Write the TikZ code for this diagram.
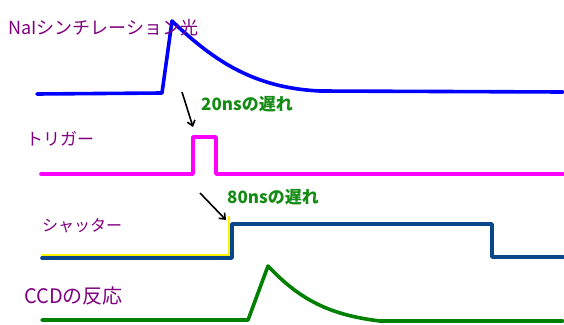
\documentclass[tikz,border=0pt]{standalone}
\usepackage{fontspec}
\setmainfont{Noto Sans CJK JP}
\usetikzlibrary{arrows.meta}
\definecolor{textpurple}{RGB}{128,0,128}
\definecolor{delaygreen}{RGB}{20,140,20}
\definecolor{naiblue}{RGB}{0,0,255}
\definecolor{trigpink}{RGB}{255,0,255}
\definecolor{shutblue}{RGB}{10,70,138}
\definecolor{ccdgreen}{RGB}{0,128,0}
\begin{document}
\begin{tikzpicture}[
 x=1pt,y=-1pt,
 signal/.style={line width=3.6pt,line join=round,line cap=round},
 sigtext/.style={font=\fontsize{18}{20}\selectfont,text=textpurple,anchor=west,inner sep=0pt},
 delay/.style={font=\fontsize{17}{19}\selectfont\bfseries,text=delaygreen,anchor=west,inner sep=0pt},
 pointer/.style={line width=1.6pt,-{Straight Barb[length=5pt,width=8pt]}}]
 \useasboundingbox (0,0) rectangle (564,324);
 % NaI scintillation light.
 \draw[signal,naiblue] (37,94)--(162,93)--(172,21)
  ..controls(215,62)and(255,88)..(320,91)--(563,92);
 \node[sigtext] (nai) at (8,28){NaIシンチレーション光};
 % Trigger pulse.
 \draw[signal,trigpink] (41,174)--(193,174)--(193,137)--(216,137)--(216,174)--(563,174);
 \node[sigtext,font=\fontsize{17}{19}\selectfont] (trig) at (26,139){トリガー};
 \coordinate (p1s) at (182,92); \coordinate (p1e) at (193,127);
 \draw[pointer] (p1s)--(p1e);
 \node[delay] (d20) at (201,104){20nsの遅れ};
 % Shutter gate.
 \draw[yellow,line width=1.6pt] (42,255)--(229,255)--(229,216);
 \draw[signal,shutblue] (42,258)--(232,258)--(232,224)--(492,224)--(492,257)--(563,257);
 \node[sigtext,font=\fontsize{16}{18}\selectfont] (shut) at (42,226){シャッター};
 \coordinate (p2s) at (200,193); \coordinate (p2e) at (226,220);
 \draw[pointer] (p2s)--(p2e);
 \node[delay] (d80) at (227,197){80nsの遅れ};
 % CCD response.
 \draw[signal,ccdgreen] (42,320)--(248,320)--(268,266)
  ..controls(300,300)and(330,315)..(380,321)--(563,321);
 \node[sigtext,font=\fontsize{20}{22}\selectfont] (ccd) at (24,296){CCDの反応};
\end{tikzpicture}
\end{document}
